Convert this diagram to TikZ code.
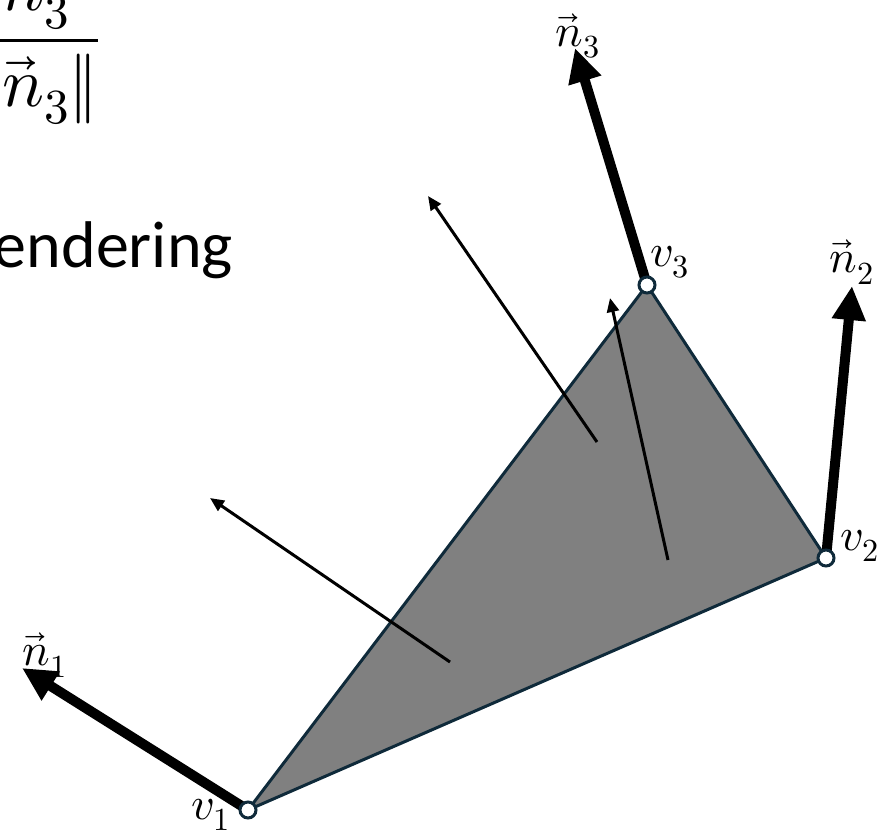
\documentclass[tikz,border=0pt]{standalone}
\usepackage{fontspec}
\usepackage{unicode-math}
\setmainfont{Carlito}
\setmathfont{Latin Modern Math}
\usetikzlibrary{arrows.meta}
\definecolor{edgeblue}{HTML}{0F2A3A}
\definecolor{trigray}{HTML}{808080}
\tikzset{
  vert/.style={circle,draw=edgeblue,line width=3pt,fill=white,minimum size=16pt,inner sep=0pt},
  normalarrow/.style={line width=10pt,-{Triangle[length=34pt,width=32pt]}},
  thinarrow/.style={line width=3pt,-{Triangle[length=14pt,width=12pt]}},
  lbl/.style={inner sep=0pt,font=\fontsize{46}{50}\selectfont}
}
\begin{document}
\begin{tikzpicture}[x=1pt,y=-1pt]
\useasboundingbox (0,0) rectangle (885,835);
\clip (0,0) rectangle (885,835);
% partial slide text
\node[anchor=east,inner sep=0pt,font=\fontsize{70}{74}\selectfont] (frac) at (99,43) {$\displaystyle\frac{\vec{n}_3}{\|\vec{n}_3\|}$};
\node[anchor=base east,inner sep=0pt,font=\fontsize{66}{70}\selectfont] (txt) at (233,267) {endering};
% vertices
\coordinate (p1) at (248,810);
\coordinate (p2) at (826,558);
\coordinate (p3) at (647,285);
\filldraw[fill=trigray,draw=edgeblue,line width=3pt,line join=round] (p1) -- (p2) -- (p3) -- cycle;
% face normals
\coordinate (a1) at (450,662); \coordinate (b1) at (210,498);
\coordinate (a2) at (597,442); \coordinate (b2) at (428,196);
\coordinate (a3) at (668,560); \coordinate (b3) at (610,298);
\draw[thinarrow] (a1) -- (b1);
\draw[thinarrow] (a2) -- (b2);
\draw[thinarrow] (a3) -- (b3);
% vertex normals
\coordinate (t1) at (22,668);
\coordinate (t2) at (852,286);
\coordinate (t3) at (575,48);
\draw[normalarrow] (p1) -- (t1);
\draw[normalarrow] (p2) -- (t2);
\draw[normalarrow] (p3) -- (t3);
\node[vert] (v1) at (p1) {};
\node[vert] (v2) at (p2) {};
\node[vert] (v3) at (p3) {};
% labels
\node[lbl] (lv1) at (211,815) {$v_1$};
\node[lbl] (lv2) at (860,546) {$v_2$};
\node[lbl] (lv3) at (670,262) {$v_3$};
\node[lbl] (ln1) at (45,655) {$\vec{n}_1$};
\node[lbl] (ln2) at (852,262) {$\vec{n}_2$};
\node[lbl] (ln3) at (578,36) {$\vec{n}_3$};
\end{tikzpicture}
\end{document}
